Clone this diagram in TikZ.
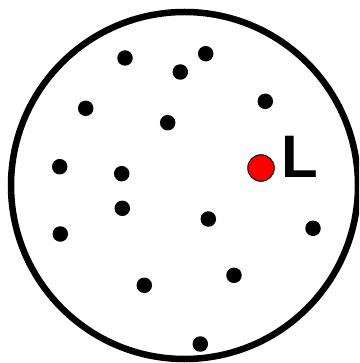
\documentclass[tikz,border=0pt]{standalone}
\usepackage{fontspec}
\setmainfont{Liberation Sans}
\begin{document}
\begin{tikzpicture}[x=1pt,y=-1pt,
  dotb/.style={circle,fill=black,inner sep=0pt,minimum size=15.5pt},
  dotr/.style={circle,fill=red,draw=black,line width=1pt,inner sep=0pt,minimum size=26.5pt},
  lab/.style={inner sep=0pt,font=\fontsize{60}{60}\selectfont\bfseries}]
\useasboundingbox (0,0) rectangle (359,363);
\clip (0,0) rectangle (359,363);
\node[draw=black,line width=6.5pt,circle,inner sep=0pt,minimum size=347pt] (big) at (184.5,185.5) {};
\node[dotb] (d1) at (125,58) {};
\node[dotb] (d2) at (205.7,53.7) {};
\node[dotb] (d3) at (180.3,72) {};
\node[dotb] (d4) at (85.7,108.3) {};
\node[dotb] (d5) at (265.3,101.3) {};
\node[dotb] (d6) at (167.7,122.7) {};
\node[dotb] (d7) at (59.7,166.7) {};
\node[dotb] (d8) at (121.7,173.7) {};
\node[dotb] (d9) at (122.3,208.3) {};
\node[dotb] (d10) at (208.3,219) {};
\node[dotb] (d11) at (60.3,234) {};
\node[dotb] (d12) at (313,228.3) {};
\node[dotb] (d13) at (144.3,285.3) {};
\node[dotb] (d14) at (234,275.3) {};
\node[dotb] (d15) at (200.3,344) {};
\node[dotr] (red) at (261,168) {};
\node[lab,anchor=base west] (L) at (281.6,177.3) {L};
\end{tikzpicture}
\end{document}
